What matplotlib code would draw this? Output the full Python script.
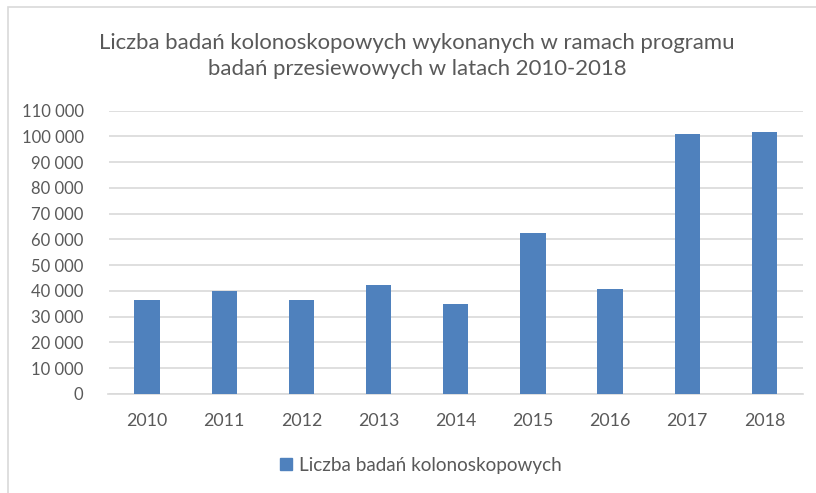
import matplotlib
matplotlib.use("Agg")
import matplotlib.pyplot as plt
from matplotlib.patches import Rectangle
from matplotlib.ticker import FuncFormatter

years = ["2010", "2011", "2012", "2013", "2014", "2015", "2016", "2017", "2018"]
values = [36500, 40000, 36500, 42400, 35000, 62600, 40800, 101000, 101800]
series_name = "Liczba badań kolonoskopowych"
title = "Liczba badań kolonoskopowych wykonanych w ramach programu\nbadań przesiewowych w latach 2010-2018"
yticks = list(range(0, 110001, 10000))

W, H = 816, 493
plt.rcParams['font.family'] = ['Lato', 'DejaVu Sans']
fig = plt.figure(figsize=(W / 100, H / 100), dpi=100)
fig.patch.set_facecolor("white")

# chart border (left and top visible)
fig.patches.append(Rectangle((8 / W, -0.1), 1.2, (H - 7) / H + 0.1, transform=fig.transFigure,
                             fill=False, edgecolor="#d9d9d9", linewidth=1.2))

left, right = 108.5, 803
top, bottom = 110.7, 394
ax = fig.add_axes([left / W, 1 - bottom / H, (right - left) / W, (bottom - top) / H])
x = list(range(len(years)))
ax.bar(x, values, width=0.33, color="#4f81bd", zorder=3)
ax.set_xlim(-0.5, len(years) - 0.5)
ax.set_ylim(0, 110000)
ax.set_yticks(yticks)
ax.yaxis.set_major_formatter(FuncFormatter(lambda v, p: f"{int(v):,}".replace(",", " ")))
ax.set_xticks(x)
ax.set_xticklabels(years)
ax.grid(axis="y", color="#d9d9d9", linewidth=1.2, zorder=0)
for s in ["top", "right", "left"]:
    ax.spines[s].set_visible(False)
ax.spines["bottom"].set_color("#d9d9d9")
ax.spines["bottom"].set_linewidth(1.2)
ax.tick_params(axis="both", length=0, labelsize=12, labelcolor="#595959")
ax.tick_params(axis="x", labelsize=12.8)
ax.tick_params(axis="y", pad=18)
ax.tick_params(axis="x", pad=14)

fig.text(417 / W, 1 - 56 / H, title, ha="center", va="center", fontsize=15.9,
         color="#595959", linespacing=1.4)

h = Rectangle((0, 0), 1, 1, color="#4f81bd")
fig.legend([h], [series_name], loc="center", bbox_to_anchor=(421 / W, 1 - 465 / H),
           frameon=False, fontsize=13.6, labelcolor="#595959", handlelength=0.6,
           handleheight=0.6, handletextpad=0.4)

fig.savefig("out.png", dpi=100, facecolor="white")
